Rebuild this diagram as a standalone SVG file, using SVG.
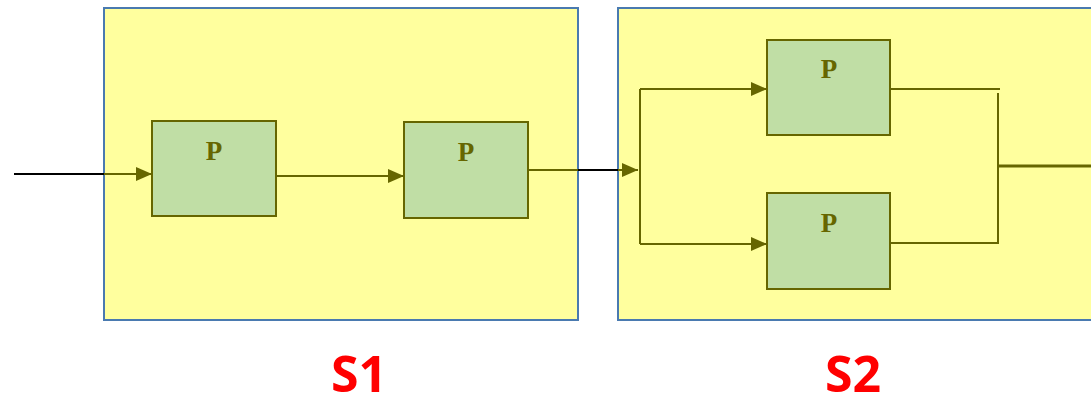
<svg xmlns="http://www.w3.org/2000/svg" width="1091" height="405" viewBox="0 0 1091 405">
<style>
.stage{fill:#ffff9e;stroke:#4a7ab0;stroke-width:2}
.proc{fill:#c0dea5;stroke:#666600;stroke-width:2}
.pl{font-family:"Liberation Serif",serif;font-weight:bold;font-size:27px;fill:#666600;text-anchor:middle}
.sl{font-family:"Open Sans","Liberation Sans",sans-serif;font-weight:bold;font-size:50px;fill:#ff0000;text-anchor:middle}
.ln{stroke:#666600;stroke-width:2;fill:none}
.bk{stroke:#000;stroke-width:2;fill:none}
</style>
<defs>
<marker id="ah" viewBox="0 0 16 14" refX="16" refY="7" markerWidth="16" markerHeight="14" markerUnits="userSpaceOnUse" orient="auto">
<path d="M0,0 L16,7 L0,14 Z" fill="#666600"/>
</marker>
</defs>
<rect width="1091" height="405" fill="#fff"/>
<g id="S1">
<rect class="stage" x="104" y="8" width="474" height="312"/>
<text class="sl" x="359" y="392">S1</text>
</g>
<g id="S2">
<rect class="stage" x="618" y="8" width="480" height="312"/>
<text class="sl" x="853" y="392">S2</text>
</g>
<g id="P1">
<rect class="proc" x="152" y="121" width="124" height="95"/>
<text class="pl" x="214" y="160">P</text>
</g>
<g id="P2">
<rect class="proc" x="404" y="122" width="124" height="96"/>
<text class="pl" x="466" y="161">P</text>
</g>
<g id="P3">
<rect class="proc" x="767" y="40" width="123" height="95"/>
<text class="pl" x="829" y="78">P</text>
</g>
<g id="P4">
<rect class="proc" x="767" y="193" width="123" height="96"/>
<text class="pl" x="829" y="232">P</text>
</g>
<g id="connectors">
<path class="bk" d="M14,174 H104"/>
<path class="ln" d="M104,174 H152" marker-end="url(#ah)"/>
<path class="ln" d="M276,176 H404" marker-end="url(#ah)"/>
<path class="ln" d="M528,170 H578"/>
<path class="bk" d="M578,170 H618"/>
<path class="ln" d="M618,170 H638" marker-end="url(#ah)"/>
<path class="ln" d="M640,244 V89"/>
<path class="ln" d="M640,89 H767" marker-end="url(#ah)"/>
<path class="ln" d="M640,244 H767" marker-end="url(#ah)"/>
<path class="ln" d="M890,89 H1000"/>
<path class="ln" d="M890,243 H999"/>
<path class="ln" d="M998,93 V244"/>
<path class="ln" d="M998,166 H1091" style="stroke-width:3"/>
</g>
</svg>
